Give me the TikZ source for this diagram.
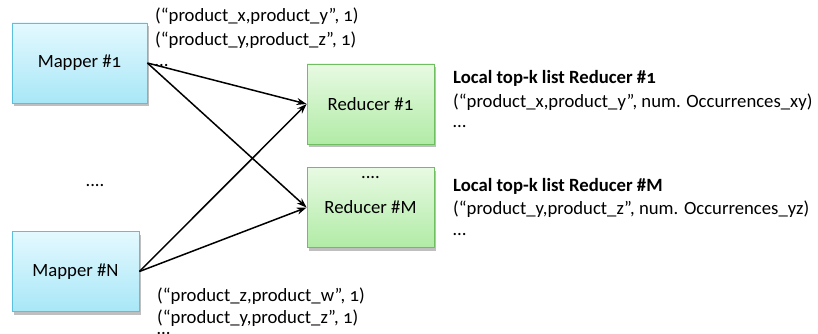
\documentclass[tikz,border=0pt]{standalone}
\usepackage{fontspec}
\setmainfont{Carlito}[Numbers=OldStyle]
\usepackage{xcolor}
\usepackage{tikz}
\usetikzlibrary{positioning}
\usetikzlibrary{shadows}
\usetikzlibrary{arrows.meta}
\definecolor{mapperedge}{HTML}{5BC0DE}
\definecolor{mappertop}{HTML}{E4F9FF}
\definecolor{mapperbot}{HTML}{A8E7F7}
\definecolor{reduceredge}{HTML}{6FBF60}
\definecolor{reducertop}{HTML}{E8FAE3}
\definecolor{reducerbot}{HTML}{B1EBA6}

\begin{document}
\begin{tikzpicture}[
x=1pt, y=-1pt,
font=\fontsize{18.7}{22}\selectfont,
mapperbox/.style={rectangle, draw=mapperedge, thick, top color=mappertop, bottom color=mapperbot, minimum width=135pt, minimum height=80pt, align=center, drop shadow={shadow xshift=2pt, shadow yshift=-3pt, fill=black, opacity=.25}},
reducerbox/.style={rectangle, draw=reduceredge, thick, top color=reducertop, bottom color=reducerbot, minimum width=127pt, minimum height=80pt, align=center, drop shadow={shadow xshift=2pt, shadow yshift=-3pt, fill=black, opacity=.25}},
listtext/.style={anchor=west, inner sep=0pt, text height=13pt, text depth=5pt},
dotstext/.style={anchor=base west, inner sep=0pt},
flow/.style={-{Stealth[length=10pt, width=7pt]}, line width=1.5pt},
]
\useasboundingbox (0,0) rectangle (818,334);
%Nodes
\node[mapperbox]		(mapperone)		at (79.5,63)		{Mapper \#1};
\node[mapperbox, minimum width=127pt]	(mappern)	at (75.5,271.5)	{Mapper \#N};
\node					(mapperdots)	at (95,186)			{....};
\node[reducerbox]		(reducerone)	at (370.5,104)		{Reducer \#1};
\node[reducerbox]		(reducerm)		at (370.5,207.5)	{Reducer \#M};
\node					(reducerdots)	at (370.5,178)		{....};

%Emitted pairs
\node[listtext]	(mapperonea)	at (155,18)		{(“product\_x,product\_y”, 1)};
\node[listtext]	(mapperoneb)	at (155,42)		{(“product\_y,product\_z”, 1)};
\node[dotstext]	(mapperonec)	at (155,67)		{…};
\node[listtext]	(mappertwoa)	at (157,297)	{(“product\_z,product\_w”, 1)};
\node[listtext]	(mappertwob)	at (157,319)	{(“product\_y,product\_z”, 1)};
\node[dotstext]	(mappertwoc)	at (157,334)	{…};

%Top-k lists
\node[listtext]	(toponetitle)	at (453,80)		{\bfseries Local top-k list Reducer \#1};
\node[listtext]	(toponeitem)	at (453,103)	{(“product\_x,product\_y”, num. Occurrences\_xy)};
\node[dotstext]	(toponedots)	at (453,128)	{…};
\node[listtext]	(topmtitle)		at (453,187)	{\bfseries Local top-k list Reducer \#M};
\node[listtext]	(topmitem)		at (453,210)	{(“product\_y,product\_z”, num. Occurrences\_yz)};
\node[dotstext]	(topmdots)		at (453,235)	{…};

%Lines
\draw[flow] (mapperone.east) -- (reducerone.west);
\draw[flow] (mapperone.east) -- (reducerm.west);
\draw[flow] (mappern.east) -- (reducerone.west);
\draw[flow] (mappern.east) -- (reducerm.west);
\end{tikzpicture}
\end{document}
